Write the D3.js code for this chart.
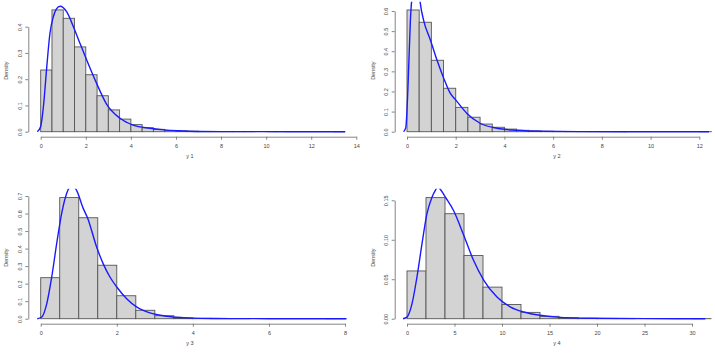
<!DOCTYPE html>
<html>
<head>
<meta charset="utf-8">
<script src="https://cdn.jsdelivr.net/npm/d3@7"></script>
<style>
  body { margin: 0; background: #fff; }
  svg { display: block; font-family: "Liberation Sans", Arial, sans-serif; }
  .axis path, .axis line { stroke: #777; stroke-width: 0.9; }
  .axis text { fill: #444; font-size: 5.5px; }
  .lab { fill: #444; font-size: 5.5px; }
</style>
</head>
<body>
<div id="chart"></div>
<script>
// histogram densities, one value per bin
const y1Heights = [0.235, 0.464, 0.432, 0.323, 0.217, 0.137, 0.083, 0.048, 0.027, 0.015, 0.009, 0.005, 0.003, 0.002, 0.001, 0.001, 0.0005, 0.0003, 0.0002, 0, 0.0001, 0, 0, 0, 0, 0, 0.0001];
const y2Heights = [0.605, 0.544, 0.355, 0.216, 0.121, 0.072, 0.038, 0.022, 0.013, 0.007, 0.004, 0.002, 0.001, 0.001, 0.0005, 0.0003, 0.0002, 0.0001, 0, 0, 0, 0, 0, 0, 0.0001];
const y3Heights = [0.234, 0.691, 0.576, 0.305, 0.131, 0.048, 0.017, 0.005, 0.002, 0.001, 0.0005, 0, 0, 0, 0, 0.0001];
const y4Heights = [0.0605, 0.1534, 0.133, 0.080, 0.040, 0.018, 0.008, 0.003, 0.0012, 0.0005, 0.0002, 0.0001, 0, 0, 0, 0.0001];
const binWidths = [0.5, 0.5, 0.5, 2];

// density curves
const y1CurveX = [-0.15, 0, 0.12, 0.27, 0.41, 0.56, 0.7, 0.86, 1.15, 1.45, 1.74, 2.04, 2.48, 2.92, 3.52, 4.1, 4.85, 5.6, 6.3, 7.0, 8, 10, 12, 13.5];
const y1CurveY = [0, 0.02, 0.095, 0.248, 0.375, 0.438, 0.468, 0.478, 0.457, 0.40, 0.337, 0.273, 0.184, 0.105, 0.051, 0.025, 0.013, 0.006, 0.003, 0.001, 0.0004, 0.0001, 0, 0];
const y2CurveX = [-0.14, -0.05, 0, 0.07, 0.14, 0.2, 0.35, 0.5, 0.55, 0.68, 0.96, 1.23, 1.51, 1.78, 2.0, 2.46, 3.0, 3.7, 4.5, 5.5, 7, 9, 12.4];
const y2CurveY = [0, 0.02, 0.108, 0.323, 0.555, 0.66, 0.74, 0.69, 0.635, 0.555, 0.456, 0.356, 0.265, 0.19, 0.158, 0.091, 0.042, 0.017, 0.007, 0.002, 0.0005, 0.0001, 0];
const y3CurveX = [-0.09, 0.03, 0.16, 0.29, 0.42, 0.55, 0.68, 0.83, 0.95, 1.12, 1.23, 1.47, 1.65, 1.82, 2.0, 2.26, 2.52, 2.87, 3.31, 3.75, 4.2, 5, 6, 8.04];
const y3CurveY = [0, 0.01, 0.086, 0.238, 0.428, 0.6, 0.713, 0.765, 0.729, 0.628, 0.576, 0.409, 0.31, 0.238, 0.181, 0.114, 0.067, 0.033, 0.014, 0.006, 0.002, 0.0005, 0.0001, 0];
const y4CurveX = [-0.42, 0, 0.53, 1.05, 1.58, 2.1, 2.63, 3.0, 3.25, 3.5, 4.04, 4.9, 5.96, 7.0, 8.07, 9.47, 10.9, 12.3, 14.0, 15.8, 19.3, 25, 31.4];
const y4CurveY = [0, 0.002, 0.019, 0.053, 0.095, 0.133, 0.154, 0.163, 0.167, 0.164, 0.154, 0.137, 0.106, 0.074, 0.049, 0.0275, 0.0148, 0.0085, 0.0043, 0.002, 0.0005, 0.0001, 0];

// tick labels
const y1XTicks = [0, 2, 4, 6, 8, 10, 12, 14];
const y2XTicks = [0, 2, 4, 6, 8, 10, 12];
const y3XTicks = [0, 2, 4, 6, 8];
const y4XTicks = [0, 5, 10, 15, 20, 25, 30];
const y1YTicks = [0, 0.1, 0.2, 0.3, 0.4];
const y2YTicks = [0, 0.1, 0.2, 0.3, 0.4, 0.5, 0.6];
const y3YTicks = [0, 0.1, 0.2, 0.3, 0.4, 0.5, 0.6, 0.7];
const y4YTicks = [0, 0.05, 0.10, 0.15];
const xLabels = ["y 1", "y 2", "y 3", "y 4"];

// pixel layout of each panel (R plot regions)
const layout = [
    { xr: [40.7, 356.3], yr: [131.7, 26.7], left: 28.3, right: 357.5, labX: 190, top: 1.7, bottom: 136.7, yFmt: ".1f" },
    { xr: [407, 699.3], yr: [131.7, 11], left: 394.7, right: 715, labX: 557, top: 1.7, bottom: 136.7, yFmt: ".1f" },
    { xr: [40.7, 345], yr: [318.7, 196], left: 28.3, right: 357.5, labX: 190, top: 188.7, bottom: 323.7, yFmt: ".1f" },
    { xr: [407, 692], yr: [318.7, 200.3], left: 394.7, right: 715, labX: 557, top: 188.7, bottom: 323.7, yFmt: ".2f" }
];

const heights = [y1Heights, y2Heights, y3Heights, y4Heights];
const curvesX = [y1CurveX, y2CurveX, y3CurveX, y4CurveX];
const curvesY = [y1CurveY, y2CurveY, y3CurveY, y4CurveY];
const xTicks = [y1XTicks, y2XTicks, y3XTicks, y4XTicks];
const yTicks = [y1YTicks, y2YTicks, y3YTicks, y4YTicks];

const svg = d3.select("#chart").append("svg")
    .attr("width", 715)
    .attr("height", 354);

layout.forEach((L, p) => {
    const xt = xTicks[p], yt = yTicks[p];
    const x = d3.scaleLinear().domain([0, xt[xt.length - 1]]).range(L.xr);
    const y = d3.scaleLinear().domain([0, yt[yt.length - 1]]).range(L.yr);

    svg.append("clipPath").attr("id", "clip" + p)
        .append("rect")
        .attr("x", L.left).attr("y", L.top)
        .attr("width", L.right - L.left).attr("height", L.bottom - L.top);

    const g = svg.append("g");
    const plot = g.append("g").attr("clip-path", `url(#clip${p})`);

    const w = binWidths[p];
    const bins = heights[p].map((h, i) => ({ x0: i * w, x1: (i + 1) * w, h }));

    plot.selectAll("rect.bar")
        .data(bins)
        .enter()
        .append("rect")
        .attr("class", "bar")
        .attr("x", d => x(d.x0))
        .attr("y", d => y(d.h))
        .attr("width", d => x(d.x1) - x(d.x0))
        .attr("height", d => y(0) - y(d.h))
        .attr("fill", "#d3d3d3")
        .attr("stroke", "#555")
        .attr("stroke-width", 0.9);

    const pts = curvesX[p].map((cx, i) => [cx, curvesY[p][i]]);
    plot.append("path")
        .datum(pts)
        .attr("fill", "none")
        .attr("stroke", "#1a1aff")
        .attr("stroke-width", 1.4)
        .attr("d", d3.line().x(d => x(d[0])).y(d => y(d[1])).curve(d3.curveMonotoneX));

    // x axis
    g.append("g")
        .attr("class", "axis")
        .attr("transform", `translate(0,${L.bottom})`)
        .call(d3.axisBottom(x).tickValues(xt).tickFormat(d3.format("d")).tickSize(3).tickSizeOuter(0).tickPadding(4));

    // y axis, labels parallel to the axis
    const ya = g.append("g")
        .attr("class", "axis")
        .attr("transform", `translate(${L.left},0)`)
        .call(d3.axisLeft(y).tickValues(yt).tickFormat(d3.format(L.yFmt)).tickSize(3).tickSizeOuter(0));
    ya.selectAll("text")
        .attr("transform", "rotate(-90)")
        .attr("x", 0)
        .attr("y", -6.3)
        .attr("dy", 0)
        .style("text-anchor", "middle");

    g.append("text")
        .attr("class", "lab")
        .attr("transform", `translate(${L.left - 20},${(L.top + L.bottom) / 2 + 1.5}) rotate(-90)`)
        .style("text-anchor", "middle")
        .text("Density");

    g.append("text")
        .attr("class", "lab")
        .attr("x", L.labX)
        .attr("y", L.bottom + 21)
        .style("text-anchor", "middle")
        .text(xLabels[p]);
});
</script>
</body>
</html>
